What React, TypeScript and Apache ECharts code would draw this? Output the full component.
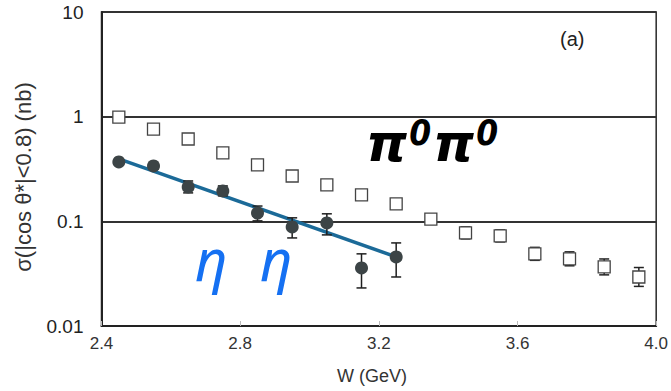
import React, { useEffect, useRef } from "react";
import * as echarts from "echarts";

const X_TICKS = [2.4, 2.8, 3.2, 3.6, 4.0];
const Y_TICKS = [0.01, 0.1, 1, 10];

const W_PI = [2.45, 2.55, 2.65, 2.75, 2.85, 2.95, 3.05, 3.15, 3.25, 3.35, 3.45, 3.55, 3.65, 3.75, 3.85, 3.95];
const PI_VAL = [0.99, 0.76, 0.612, 0.45, 0.346, 0.271, 0.223, 0.179, 0.147, 0.105, 0.0775, 0.0725, 0.0489, 0.0438, 0.0367, 0.0294];
const PI_LO = [0.95, 0.73, 0.59, 0.433, 0.333, 0.261, 0.215, 0.172, 0.141, 0.1, 0.068, 0.0636, 0.0424, 0.0376, 0.0308, 0.0239];
const PI_HI = [1.03, 0.79, 0.635, 0.467, 0.359, 0.281, 0.231, 0.186, 0.153, 0.11, 0.0884, 0.0827, 0.0564, 0.0511, 0.0437, 0.0362];

const W_ETA = [2.45, 2.55, 2.65, 2.75, 2.85, 2.95, 3.05, 3.15, 3.25];
const ETA_VAL = [0.369, 0.338, 0.213, 0.195, 0.12, 0.0885, 0.0966, 0.0359, 0.0457];
const ETA_LO = [0.35, 0.32, 0.187, 0.175, 0.101, 0.0694, 0.0742, 0.0231, 0.0294];
const ETA_HI = [0.39, 0.356, 0.243, 0.218, 0.140, 0.108, 0.118, 0.0489, 0.0622];

const FIT_W = [2.45, 3.25];
const FIT_VAL = [0.395, 0.0457];

const errRender = (capW: number, color: string, lw: number) => (params: any, api: any) => {
  const x = api.value(0);
  const lo = api.value(1);
  const hi = api.value(2);
  const p1 = api.coord([x, lo]);
  const p2 = api.coord([x, hi]);
  const st = { stroke: color, lineWidth: lw };
  return {
    type: "group",
    children: [
      { type: "line", shape: { x1: p1[0], y1: p1[1], x2: p2[0], y2: p2[1] }, style: st },
      { type: "line", shape: { x1: p1[0] - capW, y1: p1[1], x2: p1[0] + capW, y2: p1[1] }, style: st },
      { type: "line", shape: { x1: p2[0] - capW, y1: p2[1], x2: p2[0] + capW, y2: p2[1] }, style: st },
    ],
  };
};

export default function App() {
  const ref = useRef<HTMLDivElement>(null);
  useEffect(() => {
    if (!ref.current) return;
    const chart = echarts.init(ref.current, null, { renderer: "svg" });
    const font = "'Liberation Sans', Arial, sans-serif";
    chart.setOption({
      animation: false,
      backgroundColor: "#ffffff",
      grid: {
        left: 101.5,
        right: 13,
        top: 12,
        bottom: 65,
        show: true,
        borderColor: "#2a2a2a",
        borderWidth: 1.5,
        backgroundColor: "transparent",
      },
      xAxis: {
        type: "value",
        min: 2.4,
        max: 4.0,
        interval: 0.4,
        axisLine: { show: true, lineStyle: { color: "#222", width: 2 } },
        axisTick: { show: true, inside: true, length: 5, lineStyle: { color: "#bbb", width: 1 } },
        splitLine: { show: false },
        axisLabel: {
          color: "#333",
          fontSize: 17,
          fontFamily: font,
          margin: 9,
          formatter: (v: number) => {
            const t = X_TICKS.find((k) => Math.abs(k - v) < 1e-6);
            return t !== undefined ? t.toFixed(1) : "";
          },
        },
      },
      yAxis: {
        type: "log",
        logBase: 10,
        min: 0.01,
        max: 10,
        axisLine: { show: true, lineStyle: { color: "#222", width: 2 } },
        axisTick: { show: false },
        splitLine: { show: true, lineStyle: { color: "#333", width: 2 } },
        axisLabel: {
          color: "#222",
          fontSize: 19,
          fontFamily: font,
          margin: 18,
          formatter: (v: number) => {
            const t = Y_TICKS.find((k) => Math.abs(Math.log10(k) - Math.log10(v)) < 1e-6);
            return t !== undefined ? String(t) : "";
          },
        },
      },
      graphic: [
        {
          type: "text",
          x: 23,
          y: 177,
          rotation: Math.PI / 2,
          style: {
            text: "σ(|cos θ*|<0.8) (nb)",
            fill: "#333",
            fontSize: 22,
            fontFamily: font,
            align: "center",
            verticalAlign: "middle",
          },
        },
        {
          type: "text",
          left: 337,
          top: 367,
          style: { text: "W (GeV)", fill: "#333", fontSize: 18, fontFamily: font },
        },
        {
          type: "text",
          left: 560,
          top: 29,
          style: { text: "(a)", fill: "#222", fontSize: 20, fontFamily: font },
        },
        {
          type: "text",
          left: 366,
          top: 115,
          style: {
            text: "{p|π}{s|0}{p|π}{s|0}",
            rich: {
              p: { fontSize: 52, fontWeight: "bold", fontStyle: "italic", fontFamily: "'DejaVu Sans', sans-serif", fill: "#000", lineHeight: 54, verticalAlign: "bottom" },
              s: { fontSize: 35, fontWeight: "bold", fontStyle: "italic", fontFamily: "'DejaVu Sans Condensed', 'DejaVu Sans', sans-serif", fill: "#000", lineHeight: 35, verticalAlign: "top", padding: [0, 2, 0, 2] },
            },
          },
        },
        {
          type: "text",
          left: 195,
          top: 231,
          style: {
            text: "η",
            fill: "#1570f2",
            fontSize: 56,
            fontStyle: "italic",
            fontFamily: "'Noto Sans', 'DejaVu Sans', sans-serif",
          },
        },
        {
          type: "text",
          left: 260,
          top: 231,
          style: {
            text: "η",
            fill: "#1570f2",
            fontSize: 56,
            fontStyle: "italic",
            fontFamily: "'Noto Sans', 'DejaVu Sans', sans-serif",
          },
        },
      ],
      series: [
        {
          type: "custom",
          name: "pi err",
          renderItem: errRender(5, "#222", 1.5),
          data: W_PI.map((w, i) => [w, PI_LO[i], PI_HI[i]]),
          encode: { x: 0, y: [1, 2] },
          z: 1,
        },
        {
          type: "scatter",
          name: "pi0pi0",
          data: W_PI.map((w, i) => [w, PI_VAL[i]]),
          symbol: "rect",
          symbolSize: 12,
          itemStyle: { color: "#ffffff", borderColor: "#444", borderWidth: 1.3, opacity: 1 },
          z: 10,
        },
        {
          type: "line",
          name: "fit",
          data: FIT_W.map((w, i) => [w, FIT_VAL[i]]),
          showSymbol: false,
          symbol: "none",
          lineStyle: { color: "#1b6a98", width: 3.5 },
          z: 11,
        },
        {
          type: "custom",
          name: "eta err",
          renderItem: errRender(5, "#1e1e1e", 1.5),
          data: W_ETA.map((w, i) => [w, ETA_LO[i], ETA_HI[i]]),
          encode: { x: 0, y: [1, 2] },
          z: 12,
        },
        {
          type: "scatter",
          name: "etaeta",
          data: W_ETA.map((w, i) => [w, ETA_VAL[i]]),
          symbol: "circle",
          symbolSize: 13,
          itemStyle: { color: "#3c4446", opacity: 1 },
          z: 13,
        },
      ],
    });
    return () => chart.dispose();
  }, []);
  return <div ref={ref} style={{ width: 671, height: 391, position: "absolute", left: 0, top: 0 }} />;
}
